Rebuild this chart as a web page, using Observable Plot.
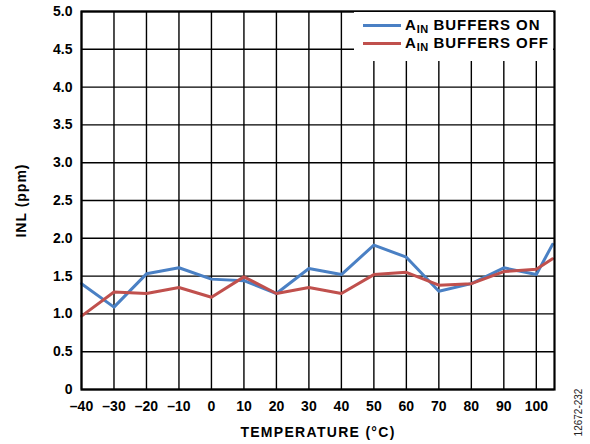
<!DOCTYPE html>
<html>
<head>
<meta charset="utf-8">
<script src="https://cdn.jsdelivr.net/npm/d3@7"></script>
<script src="https://cdn.jsdelivr.net/npm/@observablehq/plot@0.6"></script>
<style>
  body { margin: 0; background: #fff; }
  #wrap { position: relative; width: 590px; height: 444px; font-family: "Liberation Sans", Arial, sans-serif; }
  #legend { position: absolute; left: 354px; top: 12px; width: 199px; height: 49px; background: #fff; }
  .li { position: absolute; left: 9px; height: 20px; display: flex; align-items: center; }
  .sw { width: 38px; height: 3px; margin-right: 4px; }
  .lt { font-weight: bold; font-size: 15px; letter-spacing: 0.95px; color: #000; white-space: nowrap; }
  .lt sub { font-size: 11px; letter-spacing: 0.3px; vertical-align: -3px; }
</style>
</head>
<body>
<div id="wrap"></div>
<script>
const temps = [-40, -30, -20, -10, 0, 10, 20, 30, 40, 50, 60, 70, 80, 90, 100, 105];
const buffersOn  = [1.40, 1.09, 1.53, 1.61, 1.46, 1.44, 1.27, 1.60, 1.52, 1.91, 1.75, 1.30, 1.40, 1.61, 1.52, 1.92];
const buffersOff = [0.97, 1.29, 1.27, 1.35, 1.22, 1.49, 1.27, 1.35, 1.27, 1.52, 1.55, 1.38, 1.40, 1.56, 1.59, 1.73];
const xTicks = [-40, -30, -20, -10, 0, 10, 20, 30, 40, 50, 60, 70, 80, 90, 100];
const yTicks = [0, 0.5, 1.0, 1.5, 2.0, 2.5, 3.0, 3.5, 4.0, 4.5, 5.0];
const seriesNames = ["BUFFERS ON", "BUFFERS OFF"];
const seriesColors = ["#4A80C4", "#C0504D"];
const xLabel = "TEMPERATURE (°C)";
const yLabel = "INL (ppm)";
const code = "12672-232";

const onData = temps.map((t, i) => ({t, v: buffersOn[i]}));
const offData = temps.map((t, i) => ({t, v: buffersOff[i]}));

const font = "'Liberation Sans', Arial, sans-serif";

const chart = Plot.plot({
  width: 590,
  height: 444,
  marginLeft: 81,
  marginRight: 36,
  marginTop: 11,
  marginBottom: 55,
  style: {fontFamily: font, fontSize: "14px", fontWeight: "bold", color: "#000", background: "#fff"},
  x: {domain: [-40, 105.6]},
  y: {domain: [0, 5]},
  marks: [
    Plot.gridX(xTicks, {stroke: "#000", strokeOpacity: 1, strokeWidth: 1.4}),
    Plot.gridY(yTicks, {stroke: "#000", strokeOpacity: 1, strokeWidth: 1.4}),
    Plot.axisX(xTicks, {tickSize: 0, tickPadding: 12, label: null,
      tickFormat: d => d < 0 ? "\u2013" + (-d) : String(d), fontSize: 14, fontWeight: "bold"}),
    Plot.axisY(yTicks, {tickSize: 0, tickPadding: 9, label: null,
      tickFormat: d => d === 0 ? "0" : d.toFixed(1), fontSize: 14, fontWeight: "bold"}),
    Plot.line(onData, {x: "t", y: "v", stroke: seriesColors[0], strokeWidth: 3}),
    Plot.line(offData, {x: "t", y: "v", stroke: seriesColors[1], strokeWidth: 3}),
    Plot.frame({stroke: "#000", strokeWidth: 2.2}),
    Plot.text([xLabel], {frameAnchor: "bottom", dy: 47, text: d => d, fontSize: 14, fontWeight: "bold",
      textAnchor: "middle"}),
    Plot.text([yLabel], {frameAnchor: "left", dx: -60, rotate: -90, text: d => d, fontSize: 14, fontWeight: "bold",
      textAnchor: "middle", lineAnchor: "middle"}),
    Plot.text([code], {frameAnchor: "bottom-right", dx: 24, dy: 23, rotate: -90, text: d => d, fontSize: 10,
      fontWeight: "normal", fill: "#222", textAnchor: "middle", lineAnchor: "middle"})
  ]
});
document.getElementById("wrap").appendChild(chart);

d3.select(chart).selectAll("text").filter(function() { return this.textContent === xLabel; })
  .style("letter-spacing", "1.3px");
d3.select(chart).selectAll("text").filter(function() { return this.textContent === yLabel; })
  .style("letter-spacing", "1px");

const legend = document.createElement("div");
legend.id = "legend";
seriesNames.forEach((name, i) => {
  const row = document.createElement("div");
  row.className = "li";
  row.style.top = (i === 0 ? 3 : 21) + "px";
  row.innerHTML = `<div class="sw" style="background:${seriesColors[i]}"></div><div class="lt">A<sub>IN</sub> ${name}</div>`;
  legend.appendChild(row);
});
document.getElementById("wrap").appendChild(legend);
</script>
</body>
</html>
